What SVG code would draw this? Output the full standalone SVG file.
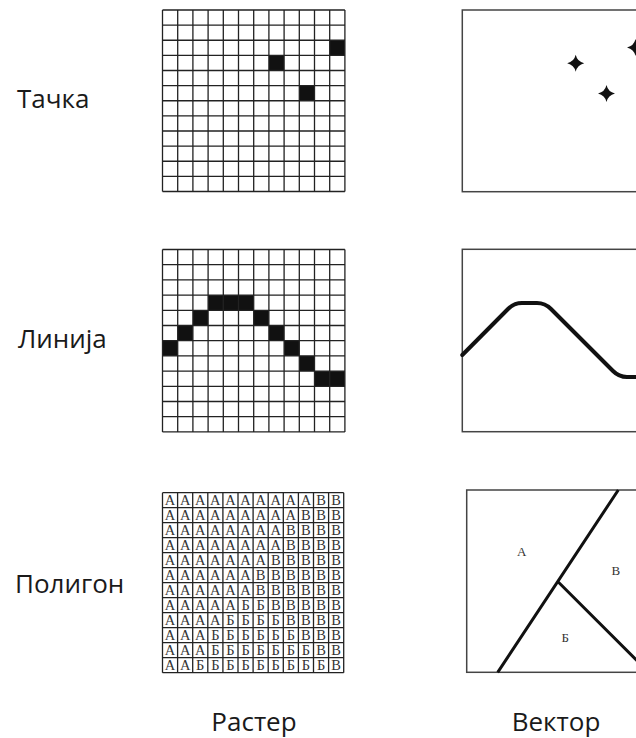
<svg xmlns="http://www.w3.org/2000/svg" width="636" height="738" viewBox="0 0 636 738">
<style>
.lbl{font-family:"Open Sans","Noto Sans","DejaVu Sans",sans-serif;font-size:26px;fill:#1a1a1a}
.grid{fill:none;stroke:#222;stroke-width:1.3}
.cell{fill:#111}
.frame{fill:#fff;stroke:#444;stroke-width:1.5}
.g3t{font-family:"Liberation Serif","Times New Roman",serif;font-size:14.5px;fill:#333;text-anchor:middle}
.vt{font-family:"Liberation Serif","Times New Roman",serif;font-size:13px;fill:#333;text-anchor:middle}
.star{fill:#111}
</style>
<defs>
<path id="star" d="M0,-8.5 Q1.6,-1.6 8.5,0 Q1.6,1.6 0,8.5 Q-1.6,1.6 -8.5,0 Q-1.6,-1.6 0,-8.5 Z"/>
</defs>
<rect width="636" height="738" fill="#fff"/>

<g id="label-tacka"><text class="lbl" x="17" y="108">Тачка</text></g>
<g id="label-linija"><text class="lbl" x="18" y="348">Линија</text></g>
<g id="label-poligon"><text class="lbl" x="15" y="593">Полигон</text></g>
<g id="label-raster"><text class="lbl" x="254" y="731" text-anchor="middle">Растер</text></g>
<g id="label-vektor"><text class="lbl" x="556" y="731" text-anchor="middle">Вектор</text></g>

<g id="raster-point">
<rect class="cell" x="329.7" y="40.25" width="15.2" height="15.125"/>
<rect class="cell" x="268.9" y="55.375" width="15.2" height="15.125"/>
<rect class="cell" x="299.3" y="85.625" width="15.2" height="15.125"/>
<path class="grid" d="M162.5,10V191.5M177.7,10V191.5M192.9,10V191.5M208.1,10V191.5M223.3,10V191.5M238.5,10V191.5M253.7,10V191.5M268.9,10V191.5M284.1,10V191.5M299.3,10V191.5M314.5,10V191.5M329.7,10V191.5M344.9,10V191.5M162.5,10H344.9M162.5,25.125H344.9M162.5,40.25H344.9M162.5,55.375H344.9M162.5,70.5H344.9M162.5,85.625H344.9M162.5,100.75H344.9M162.5,115.875H344.9M162.5,131H344.9M162.5,146.125H344.9M162.5,161.25H344.9M162.5,176.375H344.9M162.5,191.5H344.9"/>
</g>

<g id="raster-line">
<rect class="cell" x="208.1" y="295.1" width="45.6" height="15.2"/>
<rect class="cell" x="192.9" y="310.3" width="15.2" height="15.2"/>
<rect class="cell" x="253.7" y="310.3" width="15.2" height="15.2"/>
<rect class="cell" x="177.7" y="325.5" width="15.2" height="15.2"/>
<rect class="cell" x="268.9" y="325.5" width="15.2" height="15.2"/>
<rect class="cell" x="162.5" y="340.7" width="15.2" height="15.2"/>
<rect class="cell" x="284.1" y="340.7" width="15.2" height="15.2"/>
<rect class="cell" x="299.3" y="355.9" width="15.2" height="15.2"/>
<rect class="cell" x="314.5" y="371.1" width="30.4" height="15.2"/>
<path class="grid" d="M162.5,249.5V431.9M177.7,249.5V431.9M192.9,249.5V431.9M208.1,249.5V431.9M223.3,249.5V431.9M238.5,249.5V431.9M253.7,249.5V431.9M268.9,249.5V431.9M284.1,249.5V431.9M299.3,249.5V431.9M314.5,249.5V431.9M329.7,249.5V431.9M344.9,249.5V431.9M162.5,249.5H344.9M162.5,264.7H344.9M162.5,279.9H344.9M162.5,295.1H344.9M162.5,310.3H344.9M162.5,325.5H344.9M162.5,340.7H344.9M162.5,355.9H344.9M162.5,371.1H344.9M162.5,386.3H344.9M162.5,401.5H344.9M162.5,416.7H344.9M162.5,431.9H344.9"/>
</g>

<g id="raster-polygon">
<path class="grid" stroke-width="1.6" d="M162.5,492.7V672.7M177.6,492.7V672.7M192.7,492.7V672.7M207.8,492.7V672.7M222.9,492.7V672.7M238,492.7V672.7M253.1,492.7V672.7M268.2,492.7V672.7M283.3,492.7V672.7M298.4,492.7V672.7M313.5,492.7V672.7M328.6,492.7V672.7M343.7,492.7V672.7M162.5,492.7H343.7M162.5,507.7H343.7M162.5,522.7H343.7M162.5,537.7H343.7M162.5,552.7H343.7M162.5,567.7H343.7M162.5,582.7H343.7M162.5,597.7H343.7M162.5,612.7H343.7M162.5,627.7H343.7M162.5,642.7H343.7M162.5,657.7H343.7M162.5,672.7H343.7"/>
<text class="g3t" x="170.05 185.15 200.25 215.35 230.45 245.55 260.65 275.75 290.85 305.95 321.05 336.15" y="505">ААААААААААВВ</text>
<text class="g3t" x="170.05 185.15 200.25 215.35 230.45 245.55 260.65 275.75 290.85 305.95 321.05 336.15" y="520">АААААААААВВВ</text>
<text class="g3t" x="170.05 185.15 200.25 215.35 230.45 245.55 260.65 275.75 290.85 305.95 321.05 336.15" y="535">ААААААААВВВВ</text>
<text class="g3t" x="170.05 185.15 200.25 215.35 230.45 245.55 260.65 275.75 290.85 305.95 321.05 336.15" y="550">ААААААААВВВВ</text>
<text class="g3t" x="170.05 185.15 200.25 215.35 230.45 245.55 260.65 275.75 290.85 305.95 321.05 336.15" y="565">АААААААВВВВВ</text>
<text class="g3t" x="170.05 185.15 200.25 215.35 230.45 245.55 260.65 275.75 290.85 305.95 321.05 336.15" y="580">ААААААВВВВВВ</text>
<text class="g3t" x="170.05 185.15 200.25 215.35 230.45 245.55 260.65 275.75 290.85 305.95 321.05 336.15" y="595">ААААААВВВВВВ</text>
<text class="g3t" x="170.05 185.15 200.25 215.35 230.45 245.55 260.65 275.75 290.85 305.95 321.05 336.15" y="610">АААААББВВВВВ</text>
<text class="g3t" x="170.05 185.15 200.25 215.35 230.45 245.55 260.65 275.75 290.85 305.95 321.05 336.15" y="625">ААААББББВВВВ</text>
<text class="g3t" x="170.05 185.15 200.25 215.35 230.45 245.55 260.65 275.75 290.85 305.95 321.05 336.15" y="640">АААББББББВВВ</text>
<text class="g3t" x="170.05 185.15 200.25 215.35 230.45 245.55 260.65 275.75 290.85 305.95 321.05 336.15" y="655">АААБББББББВВ</text>
<text class="g3t" x="170.05 185.15 200.25 215.35 230.45 245.55 260.65 275.75 290.85 305.95 321.05 336.15" y="670">ААБББББББББВ</text>
</g>

<g id="vector-point">
<rect class="frame" x="462.3" y="10" width="200" height="181.7"/>
<use href="#star" class="star" x="575.7" y="63.3"/>
<use href="#star" class="star" x="606.5" y="93.5"/>
<use href="#star" class="star" x="635.5" y="47.5"/>
</g>

<g id="vector-line">
<rect class="frame" x="462.3" y="249.3" width="200" height="182.4"/>
<path d="M462.3,355 L508,309 Q514,303 522,303 L537,303 Q545,303 551,309 L613,371 Q619,377 627,377 L640,377" fill="none" stroke="#111" stroke-width="4" stroke-linecap="round"/>
</g>

<g id="vector-polygon">
<rect class="frame" x="466.7" y="490" width="200" height="182.3"/>
<path d="M497.7,672.3 L618.3,490 M558,581.7 L640,663.7" fill="none" stroke="#111" stroke-width="3"/>
<text class="vt" x="521.8" y="556">А</text>
<text class="vt" x="615.8" y="575">В</text>
<text class="vt" x="565.3" y="642">Б</text>
</g>
</svg>
